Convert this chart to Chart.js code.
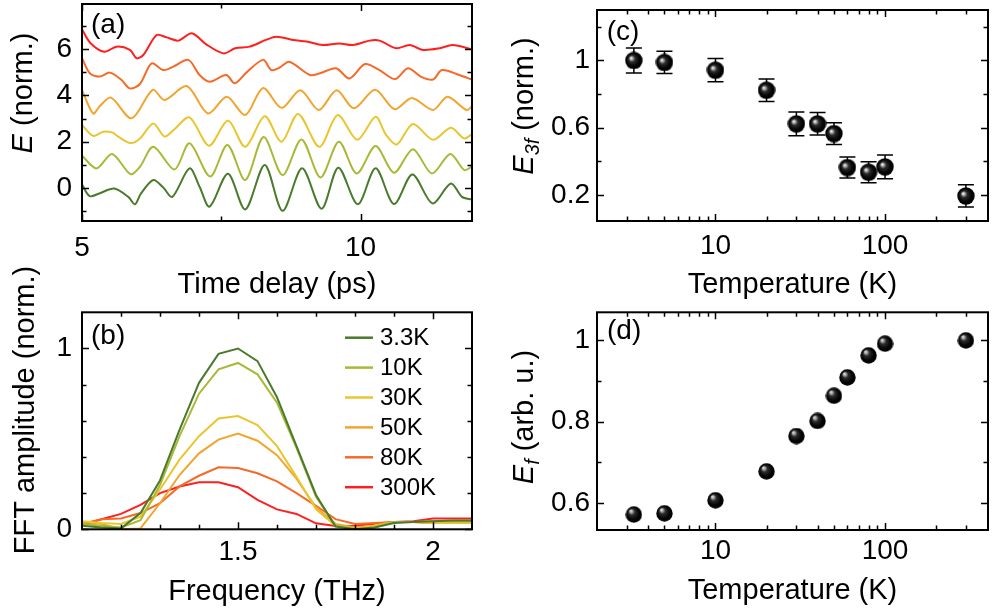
<!DOCTYPE html>
<html>
<head>
<meta charset="utf-8">
<script src="https://cdn.jsdelivr.net/npm/chart.js@4.4.1/dist/chart.umd.min.js"></script>
<style>
  body { margin: 0; background: #fff; }
  #wrap { position: relative; width: 999px; height: 612px; overflow: hidden; }
  #wrap canvas { position: absolute; left: 0; top: 0; }
</style>
</head>
<body>
<div id="wrap">
  <canvas id="panelA" width="999" height="612"></canvas>
  <canvas id="panelB" width="999" height="612"></canvas>
  <canvas id="panelC" width="999" height="612"></canvas>
  <canvas id="panelD" width="999" height="612"></canvas>
</div>
<script>
// ---- data: (a) time traces, [time ps, E], offset per temperature
const trace3K = [[5.00,0.15],[5.14,-0.35],[5.32,-0.22],[5.58,-0.02],[5.84,-0.40],[5.95,-0.70],[6.06,-0.23],[6.28,0.35],[6.46,0.02],[6.62,-0.38],[6.93,0.85],[7.11,0.06],[7.29,-0.80],[7.62,0.62],[7.93,-0.92],[8.28,1.00],[8.60,-0.98],[8.95,0.85],[9.30,-0.89],[9.60,0.88],[9.95,-0.70],[10.27,0.85],[10.60,-0.69],[10.93,0.59],[11.29,-0.66],[11.62,0.20],[11.82,-0.38],[12.00,-0.50]];
const trace10K = [[5.00,1.40],[5.26,0.85],[5.54,1.47],[5.87,0.60],[6.04,0.92],[6.28,1.78],[6.66,0.80],[6.93,1.93],[7.30,0.50],[7.61,1.86],[7.93,0.35],[8.26,2.20],[8.60,0.56],[8.94,2.10],[9.28,0.46],[9.61,2.00],[9.93,0.63],[10.27,1.81],[10.60,0.66],[10.94,1.68],[11.28,0.63],[11.61,1.47],[11.86,0.78],[12.00,0.92]];
const trace30K = [[5.00,2.72],[5.20,2.25],[5.38,2.43],[5.55,2.39],[5.65,2.22],[5.87,1.94],[6.04,2.14],[6.28,2.79],[6.48,2.22],[6.66,2.54],[6.93,3.05],[7.28,1.83],[7.62,2.91],[7.93,1.78],[8.28,3.10],[8.58,2.00],[8.88,3.20],[9.26,1.78],[9.59,3.15],[9.94,2.08],[10.27,3.08],[10.45,2.32],[10.65,1.88],[10.94,2.76],[11.30,2.08],[11.62,2.60],[11.86,2.14],[12.00,2.33]];
const trace50K = [[5.00,4.23],[5.20,3.22],[5.32,3.54],[5.52,3.90],[5.89,3.01],[6.27,4.24],[6.48,3.80],[6.88,4.40],[7.26,3.22],[7.60,3.94],[7.93,3.15],[8.25,4.32],[8.58,3.46],[8.92,4.22],[9.25,3.37],[9.57,4.22],[9.88,3.44],[10.26,4.24],[10.61,3.40],[10.92,3.89],[11.30,3.37],[11.56,3.94],[11.90,3.37],[12.00,3.52]];
const trace80K = [[5.00,5.60],[5.14,4.95],[5.32,4.81],[5.50,4.98],[5.71,4.66],[5.86,4.30],[6.04,4.49],[6.25,5.38],[6.46,5.09],[6.64,5.24],[6.91,5.53],[7.11,4.88],[7.29,4.59],[7.59,4.88],[7.74,4.52],[7.95,4.98],[8.25,5.53],[8.40,5.09],[8.55,5.20],[8.72,5.45],[9.09,4.88],[9.27,4.95],[9.56,5.17],[9.80,4.73],[10.08,5.35],[10.34,5.09],[10.62,4.70],[10.85,5.17],[11.08,4.81],[11.30,4.68],[11.46,5.09],[11.77,4.88],[12.00,4.68]];
const trace300K = [[5.00,6.85],[5.15,6.26],[5.40,5.88],[5.62,6.10],[5.86,5.96],[5.98,5.60],[6.10,5.74],[6.34,6.60],[6.52,6.50],[6.73,6.36],[6.97,6.68],[7.23,6.20],[7.54,5.81],[7.75,6.03],[8.01,6.10],[8.30,6.39],[8.49,6.53],[8.79,6.39],[9.03,6.32],[9.32,6.17],[9.62,6.24],[9.86,6.17],[10.16,6.36],[10.34,6.36],[10.64,6.03],[10.88,6.17],[11.12,5.96],[11.42,6.03],[11.65,6.17],[12.00,5.99]];

// ---- data: (b) FFT amplitude
const freq = [1.10,1.15,1.20,1.25,1.30,1.35,1.40,1.45,1.50,1.55,1.60,1.65,1.70,1.75,1.80,1.85,1.90,1.95,2.00,2.05,2.10];
const fft3K = [0.02,0.01,0.005,0.09,0.27,0.55,0.81,0.97,1.00,0.93,0.73,0.46,0.19,0.015,0.00,0.01,0.035,0.04,0.045,0.048,0.048];
const fft10K = [0.03,0.02,0.01,0.05,0.245,0.515,0.75,0.885,0.92,0.857,0.70,0.45,0.18,0.02,0.00,0.01,0.04,0.04,0.045,0.045,0.045];
const fft30K = [0.045,0.035,0.03,0.07,0.22,0.385,0.515,0.613,0.626,0.576,0.46,0.29,0.11,0.02,0.005,0.02,0.04,0.04,0.035,0.035,0.035];
const fft50K = [0.04,0.03,0.00,0.005,0.144,0.30,0.42,0.496,0.53,0.49,0.41,0.28,0.12,0.03,0.01,0.02,0.04,0.04,0.035,0.035,0.035];
const fft80K = [0.03,0.056,0.06,0.09,0.144,0.237,0.296,0.343,0.339,0.31,0.265,0.20,0.13,0.056,0.03,0.035,0.04,0.04,0.035,0.035,0.035];
const fft300K = [0.024,0.056,0.085,0.135,0.20,0.237,0.26,0.26,0.233,0.163,0.11,0.085,0.033,0.018,0.02,0.03,0.04,0.045,0.06,0.06,0.06];
const seriesLabels = ['3.3K','10K','30K','50K','80K','300K'];
const seriesColors = ['#4a7a2c','#a9b935','#e9c630','#f1a52d','#f66a28','#ff1f1f'];

// ---- data: (c), (d) vs temperature
const temps = [3.3, 5, 10, 20, 30, 40, 50, 60, 80, 100, 300];
const e3f = [1.00, 0.988, 0.942, 0.823, 0.623, 0.623, 0.565, 0.363, 0.335, 0.367, 0.194];
const e3fErr = [0.074, 0.066, 0.069, 0.067, 0.071, 0.067, 0.065, 0.062, 0.063, 0.07, 0.066];
const ef = [0.572, 0.575, 0.607, 0.678, 0.765, 0.802, 0.864, 0.909, 0.963, 0.992, 1.00];

// ---- tick values
const timeMajor = [5, 10], timeMinor = [7.5];
const eMajor = [0, 2, 4, 6], eMinor = [-1, 1, 3, 5, 7];
const freqMajor = [1.5, 2], freqMinor = [1.2, 1.3, 1.4, 1.6, 1.7, 1.8, 1.9];
const fftMajor = [0, 1], fftMinor = [0.2, 0.4, 0.6, 0.8];
const tempMajor = [10, 100], tempMinor = [3, 4, 5, 6, 7, 8, 9, 20, 30, 40, 50, 60, 70, 80, 90, 200, 300];
const e3fMajor = [0.2, 0.6, 1], e3fMinor = [0.4, 0.8, 1.2];
const efMajor = [0.6, 0.8, 1], efMinor = [0.7, 0.9];

const FONT = '"Liberation Sans", Arial, Helvetica, sans-serif';
const fmt = v => String(Math.round(v * 10) / 10);

function drawRich(ctx, parts, cx, cy, size) {
  ctx.save();
  ctx.translate(cx, cy);
  ctx.rotate(-Math.PI / 2);
  ctx.textAlign = 'left';
  ctx.textBaseline = 'alphabetic';
  const fontOf = p => (p.italic ? 'italic ' : '') + (p.sub ? size * 0.68 : size) + 'px ' + FONT;
  let total = 0;
  parts.forEach(p => { ctx.font = fontOf(p); total += ctx.measureText(p.text).width; });
  let x = -total / 2;
  const base = size * 0.36;
  parts.forEach(p => {
    ctx.font = fontOf(p);
    ctx.fillText(p.text, x, base + (p.sub ? size * 0.2 : 0));
    x += ctx.measureText(p.text).width;
  });
  ctx.restore();
}

// frame, inward ticks, labels and titles
const framePlugin = {
  id: 'frame',
  afterDraw(chart, args, o) {
    const ctx = chart.ctx, ca = chart.chartArea;
    const xs = chart.scales.x, ys = chart.scales.y;
    ctx.save();
    ctx.strokeStyle = '#000';
    ctx.lineWidth = 1.5;
    const xt = (vals, len) => vals.forEach(v => {
      const p = Math.round(xs.getPixelForValue(v)) + 0.5;
      ctx.beginPath();
      ctx.moveTo(p, ca.bottom); ctx.lineTo(p, ca.bottom - len);
      ctx.moveTo(p, ca.top); ctx.lineTo(p, ca.top + len);
      ctx.stroke();
    });
    const yt = (vals, len) => vals.forEach(v => {
      const p = Math.round(ys.getPixelForValue(v)) + 0.5;
      ctx.beginPath();
      ctx.moveTo(ca.left, p); ctx.lineTo(ca.left + len, p);
      ctx.moveTo(ca.right, p); ctx.lineTo(ca.right - len, p);
      ctx.stroke();
    });
    xt(o.xMajor, 7); xt(o.xMinor, 4.5);
    yt(o.yMajor, 7); yt(o.yMinor, 4.5);
    ctx.lineWidth = 2;
    ctx.strokeRect(ca.left, ca.top, ca.right - ca.left, ca.bottom - ca.top);

    ctx.fillStyle = '#000';
    ctx.font = o.tickSize + 'px ' + FONT;
    ctx.textAlign = 'center';
    ctx.textBaseline = 'middle';
    o.xMajor.forEach(v => ctx.fillText(fmt(v), xs.getPixelForValue(v), ca.bottom + o.xLabelGap));
    ctx.textAlign = 'right';
    o.yMajor.forEach(v => ctx.fillText(fmt(v), ca.left - o.yLabelGap, ys.getPixelForValue(v)));

    ctx.textAlign = 'center';
    ctx.textBaseline = 'alphabetic';
    ctx.font = o.titleSize + 'px ' + FONT;
    ctx.fillText(o.xTitle, (ca.left + ca.right) / 2, ca.bottom + o.xTitleGap);
    drawRich(ctx, o.yTitle, o.yTitleX, o.yTitleY, o.titleSize);

    ctx.textAlign = 'left';
    ctx.textBaseline = 'middle';
    ctx.font = o.tagSize + 'px ' + FONT;
    ctx.fillText(o.tag, ca.left + o.tagDx, ca.top + o.tagDy);
    ctx.restore();
  }
};

const legendPlugin = {
  id: 'boxLegend',
  afterDraw(chart, args, o) {
    if (!o.show) return;
    const ctx = chart.ctx, ca = chart.chartArea;
    ctx.save();
    ctx.font = '24px ' + FONT;
    ctx.textAlign = 'left';
    ctx.textBaseline = 'middle';
    chart.data.datasets.forEach((ds, i) => {
      const y = ca.top + 25.4 + i * 29.9;
      ctx.strokeStyle = ds.borderColor;
      ctx.lineWidth = 2.5;
      ctx.beginPath(); ctx.moveTo(345, y); ctx.lineTo(373, y); ctx.stroke();
      ctx.fillStyle = '#000';
      ctx.fillText(ds.label, 380, y + 1);
    });
    ctx.restore();
  }
};

const errorBarPlugin = {
  id: 'errBars',
  beforeDatasetsDraw(chart, args, o) {
    if (!o.err) return;
    const ctx = chart.ctx, xs = chart.scales.x, ys = chart.scales.y;
    const ds = chart.data.datasets[0].data;
    ctx.save();
    ctx.strokeStyle = '#000';
    ctx.lineWidth = 1.5;
    ds.forEach((pt, i) => {
      const x = xs.getPixelForValue(pt.x);
      const y1 = ys.getPixelForValue(pt.y + o.err[i]);
      const y2 = ys.getPixelForValue(pt.y - o.err[i]);
      ctx.beginPath();
      ctx.moveTo(x, y1); ctx.lineTo(x, y2);
      ctx.moveTo(x - 8, y1); ctx.lineTo(x + 8, y1);
      ctx.moveTo(x - 8, y2); ctx.lineTo(x + 8, y2);
      ctx.stroke();
    });
    ctx.restore();
  }
};

// glossy black ball used as point style
function sphere(d, hx, hy, hi) {
  const c = document.createElement('canvas');
  c.width = c.height = d;
  const g = c.getContext('2d');
  const r = d / 2;
  const grad = g.createRadialGradient(r * hx, r * hy, r * 0.04, r, r, r);
  grad.addColorStop(0, hi);
  grad.addColorStop(0.14, '#a8a8a8');
  grad.addColorStop(0.34, '#2c2c2c');
  grad.addColorStop(0.7, '#050505');
  grad.addColorStop(1, '#000');
  g.fillStyle = grad;
  g.beginPath(); g.arc(r, r, r - 0.3, 0, Math.PI * 2); g.fill();
  return c;
}

function hiddenAxis(type, min, max) {
  return { type, min, max, display: false };
}

function baseOptions(pad, xAxis, yAxis, frame, extra) {
  return {
    responsive: false,
    animation: false,
    devicePixelRatio: 1,
    layout: { padding: pad },
    scales: { x: xAxis, y: yAxis },
    plugins: Object.assign({ legend: { display: false }, tooltip: { enabled: false }, frame: frame }, extra || {})
  };
}

const pairs = arr => arr.map(p => ({ x: p[0], y: p[1] }));
const traces = [trace3K, trace10K, trace30K, trace50K, trace80K, trace300K];
const ffts = [fft3K, fft10K, fft30K, fft50K, fft80K, fft300K];
const plugins = [framePlugin, legendPlugin, errorBarPlugin];
const TICK = 28, TITLE = 29, TAG = 28;

// (a)
new Chart(document.getElementById('panelA'), {
  type: 'line',
  data: {
    datasets: traces.map((t, i) => ({
      label: seriesLabels[i], data: pairs(t), borderColor: seriesColors[i],
      borderWidth: 2, pointRadius: 0, tension: 0.3
    }))
  },
  options: baseOptions({ left: 82, top: 4, right: 999 - 472, bottom: 612 - 221 },
    hiddenAxis('linear', 5, 12), hiddenAxis('linear', -1.42, 7.94),
    { xMajor: timeMajor, xMinor: timeMinor, yMajor: eMajor, yMinor: eMinor,
      tickSize: TICK, titleSize: TITLE, tagSize: TAG, xLabelGap: 27, yLabelGap: 10, xTitleGap: 72,
      xTitle: 'Time delay (ps)', yTitle: [{ text: 'E', italic: true }, { text: ' (norm.)' }],
      yTitleX: 22, yTitleY: 93, tag: '(a)', tagDx: 9, tagDy: 21 }),
  plugins
});

// (b)
new Chart(document.getElementById('panelB'), {
  type: 'line',
  data: {
    datasets: ffts.map((f, i) => ({
      label: seriesLabels[i], data: f.map((v, k) => ({ x: freq[k], y: v })), borderColor: seriesColors[i],
      borderWidth: 2, pointRadius: 0, tension: 0
    }))
  },
  options: baseOptions({ left: 82, top: 312.3, right: 999 - 472, bottom: 612 - 529.3 },
    hiddenAxis('linear', 1.1, 2.1), hiddenAxis('linear', 0, 1.2),
    { xMajor: freqMajor, xMinor: freqMinor, yMajor: fftMajor, yMinor: fftMinor,
      tickSize: TICK, titleSize: TITLE, tagSize: TAG, xLabelGap: 22.5, yLabelGap: 10, xTitleGap: 71,
      xTitle: 'Frequency (THz)', yTitle: [{ text: 'FFT amplitude (norm.)' }],
      yTitleX: 24, yTitleY: 410, tag: '(b)', tagDx: 9, tagDy: 24.4 },
    { boxLegend: { show: true } }),
  plugins
});

// (c)
const ballC = sphere(18, 0.68, 0.72, '#f4f4f4');
new Chart(document.getElementById('panelC'), {
  type: 'scatter',
  data: {
    datasets: [{
      data: temps.map((t, i) => ({ x: t, y: e3f[i] })),
      pointStyle: ballC, pointRadius: 9, pointHoverRadius: 9
    }]
  },
  options: baseOptions({ left: 597, top: 3.3, right: 999 - 988, bottom: 612 - 221 },
    hiddenAxis('logarithmic', 2, 405), hiddenAxis('linear', 0.045, 1.30),
    { xMajor: tempMajor, xMinor: tempMinor, yMajor: e3fMajor, yMinor: e3fMinor,
      tickSize: TICK, titleSize: TITLE, tagSize: TAG, xLabelGap: 25.7, yLabelGap: 7, xTitleGap: 72,
      xTitle: 'Temperature (K)',
      yTitle: [{ text: 'E', italic: true }, { text: '3f', italic: true, sub: true }, { text: ' (norm.)' }],
      yTitleX: 523, yTitleY: 106, tag: '(c)', tagDx: 9.7, tagDy: 22 },
    { errBars: { err: e3fErr } }),
  plugins
});

// (d)
const ballD = sphere(17, 0.62, 0.55, '#e0e0e0');
new Chart(document.getElementById('panelD'), {
  type: 'scatter',
  data: {
    datasets: [{
      data: temps.map((t, i) => ({ x: t, y: ef[i] })),
      pointStyle: ballD, pointRadius: 8.5, pointHoverRadius: 8.5
    }]
  },
  options: baseOptions({ left: 597, top: 312.3, right: 999 - 988, bottom: 612 - 530 },
    hiddenAxis('logarithmic', 2, 405), hiddenAxis('linear', 0.534, 1.069),
    { xMajor: tempMajor, xMinor: tempMinor, yMajor: efMajor, yMinor: efMinor,
      tickSize: TICK, titleSize: TITLE, tagSize: TAG, xLabelGap: 21.7, yLabelGap: 7, xTitleGap: 69,
      xTitle: 'Temperature (K)',
      yTitle: [{ text: 'E', italic: true }, { text: 'f', italic: true, sub: true }, { text: ' (arb. u.)' }],
      yTitleX: 523, yTitleY: 417, tag: '(d)', tagDx: 10, tagDy: 19.4 }),
  plugins
});
</script>
</body>
</html>
